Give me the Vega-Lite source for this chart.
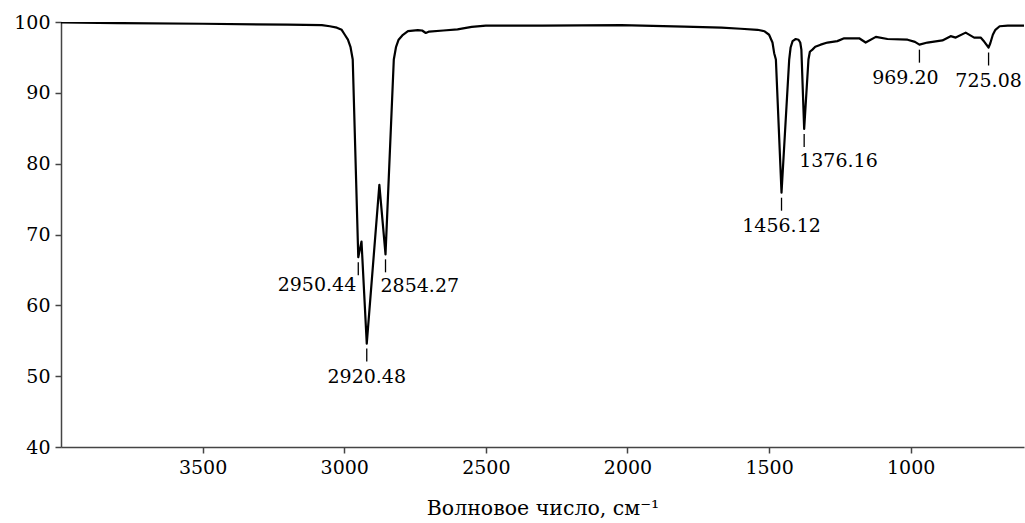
{
  "$schema": "https://vega.github.io/schema/vega-lite/v6.json",
  "width": 963,
  "height": 425,
  "autosize": "none",
  "padding": {"left": 61, "top": 22, "right": 1, "bottom": 76},
  "background": "white",
  "config": {
    "view": {"stroke": null},
    "axis": {
      "labelFont": "DejaVu Serif",
      "labelFontSize": 19,
      "labelColor": "#000",
      "titleFont": "DejaVu Serif",
      "titleFontSize": 20.5,
      "titleFontWeight": "normal",
      "titleColor": "#000",
      "domainColor": "#444",
      "domainWidth": 1.5,
      "tickColor": "#444",
      "tickWidth": 1.5,
      "tickSize": 6,
      "grid": false
    }
  },
  "datasets": {
    "spectrum": [
      {"wn": 4000, "T": 99.95}, {"wn": 3800, "T": 99.85}, {"wn": 3500, "T": 99.75},
      {"wn": 3200, "T": 99.62}, {"wn": 3079, "T": 99.55}, {"wn": 3051, "T": 99.4},
      {"wn": 3026, "T": 99.2}, {"wn": 3009, "T": 98.9}, {"wn": 2998, "T": 98.2},
      {"wn": 2987, "T": 97.5}, {"wn": 2978, "T": 96.5}, {"wn": 2970, "T": 94.7},
      {"wn": 2950.44, "T": 66.8}, {"wn": 2939, "T": 69.0}, {"wn": 2920.48, "T": 54.6},
      {"wn": 2876, "T": 77.0}, {"wn": 2854.27, "T": 67.2}, {"wn": 2825, "T": 94.7},
      {"wn": 2817, "T": 96.5}, {"wn": 2808, "T": 97.5}, {"wn": 2795, "T": 98.1},
      {"wn": 2775, "T": 98.7}, {"wn": 2740, "T": 98.85}, {"wn": 2725, "T": 98.8},
      {"wn": 2712, "T": 98.45}, {"wn": 2700, "T": 98.65}, {"wn": 2650, "T": 98.8},
      {"wn": 2600, "T": 98.95}, {"wn": 2550, "T": 99.3}, {"wn": 2500, "T": 99.5},
      {"wn": 2300, "T": 99.5}, {"wn": 2022, "T": 99.55}, {"wn": 1800, "T": 99.35},
      {"wn": 1668, "T": 99.2}, {"wn": 1600, "T": 99.05}, {"wn": 1541, "T": 98.9},
      {"wn": 1517, "T": 98.7}, {"wn": 1500, "T": 98.2}, {"wn": 1488, "T": 97.1},
      {"wn": 1482, "T": 95.6}, {"wn": 1476, "T": 94.7}, {"wn": 1456.12, "T": 75.9},
      {"wn": 1429, "T": 94.7}, {"wn": 1424, "T": 96.4}, {"wn": 1417, "T": 97.3},
      {"wn": 1406, "T": 97.6}, {"wn": 1396, "T": 97.5}, {"wn": 1390, "T": 97.1},
      {"wn": 1386, "T": 96.1}, {"wn": 1376.16, "T": 84.9}, {"wn": 1361, "T": 94.7},
      {"wn": 1356, "T": 95.8}, {"wn": 1347, "T": 96.1}, {"wn": 1337, "T": 96.5},
      {"wn": 1318, "T": 96.8}, {"wn": 1294, "T": 97.1}, {"wn": 1259, "T": 97.3},
      {"wn": 1235, "T": 97.7}, {"wn": 1182, "T": 97.7}, {"wn": 1159, "T": 97.1},
      {"wn": 1123, "T": 97.9}, {"wn": 1082, "T": 97.6}, {"wn": 1011, "T": 97.5},
      {"wn": 985, "T": 97.2}, {"wn": 969.2, "T": 96.8}, {"wn": 941, "T": 97.1},
      {"wn": 888, "T": 97.4}, {"wn": 859, "T": 98.0}, {"wn": 841, "T": 97.8},
      {"wn": 806, "T": 98.5}, {"wn": 776, "T": 97.8}, {"wn": 753, "T": 97.8},
      {"wn": 740, "T": 97.2}, {"wn": 725.08, "T": 96.4}, {"wn": 719, "T": 97.0},
      {"wn": 710, "T": 98.2}, {"wn": 701, "T": 98.9}, {"wn": 686, "T": 99.4},
      {"wn": 657, "T": 99.5}, {"wn": 600, "T": 99.5}
    ],
    "peaks": [
      {"wn": 2950.44, "T": 66.8, "label": "2950.44", "pos": "right"},
      {"wn": 2920.48, "T": 54.6, "label": "2920.48", "pos": "center"},
      {"wn": 2854.27, "T": 67.2, "label": "2854.27", "pos": "left"},
      {"wn": 1456.12, "T": 75.9, "label": "1456.12", "pos": "center"},
      {"wn": 1376.16, "T": 84.9, "label": "1376.16", "pos": "left"},
      {"wn": 969.2, "T": 96.8, "label": "969.20", "pos": "shifted"},
      {"wn": 725.08, "T": 96.4, "label": "725.08", "pos": "center"}
    ]
  },
  "encoding": {
    "x": {
      "field": "wn", "type": "quantitative",
      "scale": {"domain": [600, 4000], "reverse": true, "nice": false, "zero": false},
      "axis": {"values": [3500, 3000, 2500, 2000, 1500, 1000], "format": "d", "title": "Волновое число, см⁻¹", "titlePadding": 21, "labelPadding": 5}
    },
    "y": {
      "field": "T", "type": "quantitative",
      "scale": {"domain": [40, 100], "nice": false, "zero": false},
      "axis": {"values": [40, 50, 60, 70, 80, 90, 100], "format": "d", "title": null, "labelPadding": 5}
    }
  },
  "layer": [
    {
      "data": {"name": "spectrum"},
      "mark": {"type": "line", "color": "#000", "strokeWidth": 2.2, "interpolate": "linear", "strokeJoin": "round", "clip": true}
    },
    {
      "data": {"name": "peaks"},
      "mark": {"type": "rule", "color": "#000", "strokeWidth": 1.3, "yOffset": 5, "y2Offset": 18},
      "encoding": {"y2": {"field": "T"}}
    },
    {
      "data": {"name": "peaks"},
      "transform": [{"filter": "datum.pos === 'center'"}],
      "mark": {"type": "text", "font": "DejaVu Serif", "fontSize": 19, "color": "#000", "align": "center", "baseline": "middle", "dy": 33},
      "encoding": {"text": {"field": "label"}}
    },
    {
      "data": {"name": "peaks"},
      "transform": [{"filter": "datum.pos === 'shifted'"}],
      "mark": {"type": "text", "font": "DejaVu Serif", "fontSize": 19, "color": "#000", "align": "center", "baseline": "middle", "dy": 33, "dx": -14},
      "encoding": {"text": {"field": "label"}}
    },
    {
      "data": {"name": "peaks"},
      "transform": [{"filter": "datum.pos === 'left'"}],
      "mark": {"type": "text", "font": "DejaVu Serif", "fontSize": 19, "color": "#000", "align": "left", "baseline": "middle", "dy": 32, "dx": -5},
      "encoding": {"text": {"field": "label"}}
    },
    {
      "data": {"name": "peaks"},
      "transform": [{"filter": "datum.pos === 'right'"}],
      "mark": {"type": "text", "font": "DejaVu Serif", "fontSize": 19, "color": "#000", "align": "right", "baseline": "middle", "dy": 28, "dx": -2},
      "encoding": {"text": {"field": "label"}}
    }
  ]
}
